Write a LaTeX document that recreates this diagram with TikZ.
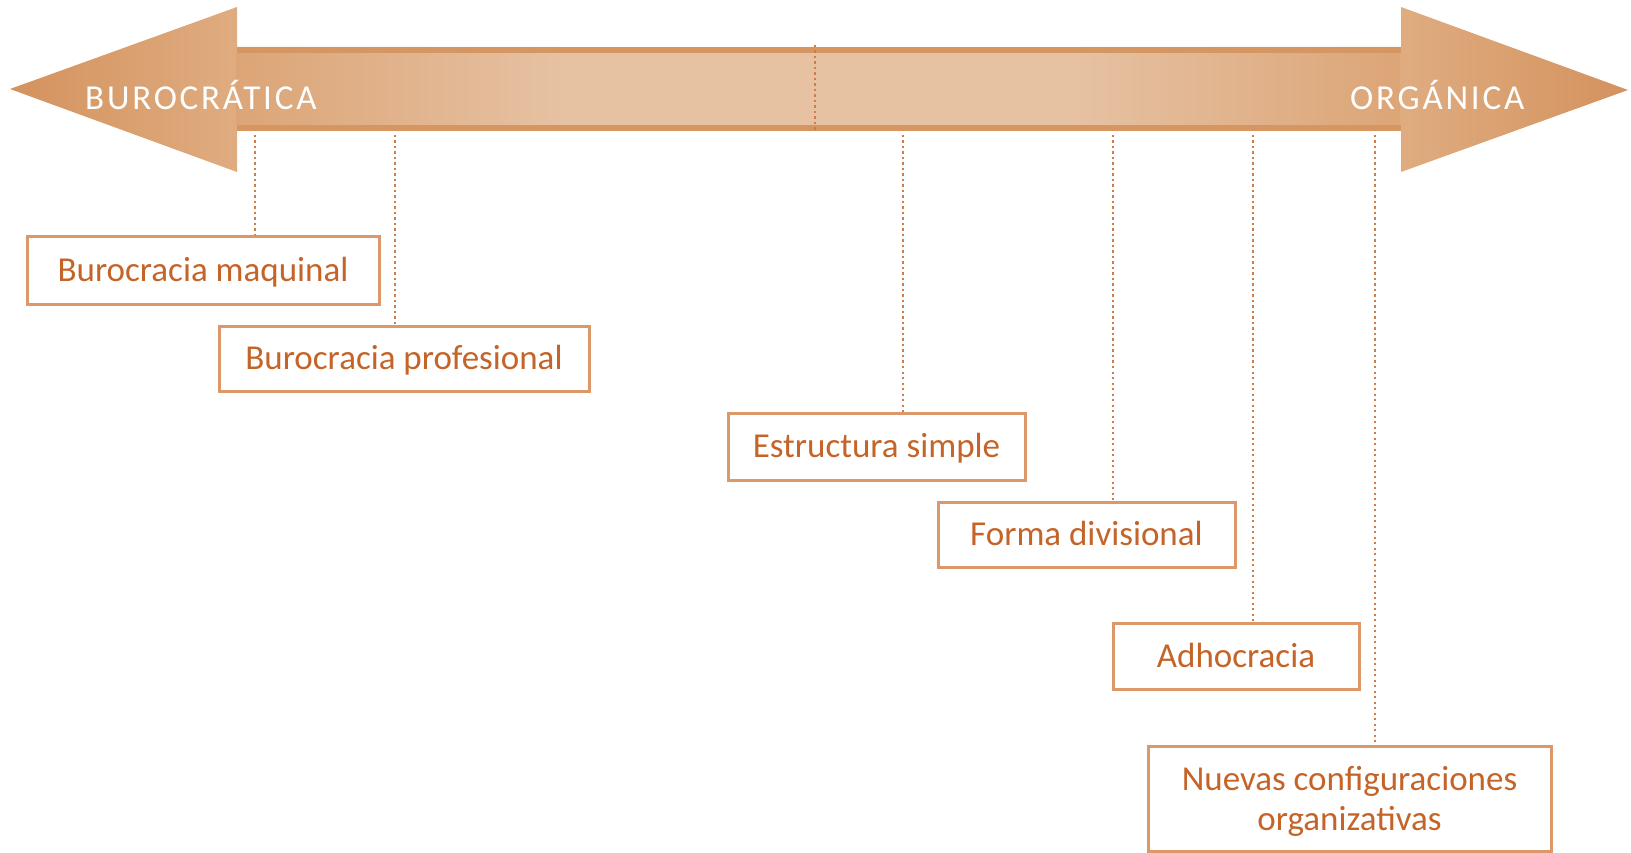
\documentclass[tikz,border=0pt]{standalone}
\usepackage{fontspec}
\setmainfont{Carlito}
\newfontfamily\spacedfont[LetterSpace=8]{Carlito}
\usetikzlibrary{fadings}

\definecolor{arrowdark}{RGB}{212,146,94}
\definecolor{arrowmid}{RGB}{223,172,128}
\definecolor{arrowlight}{RGB}{237,212,190}
\definecolor{bandcol}{RGB}{214,150,98}
\definecolor{boxline}{RGB}{220,152,104}
\definecolor{boxtext}{RGB}{196,100,40}
\definecolor{dotcol}{RGB}{204,125,72}

% left-to-right colour run of the double arrow (inner 25bp..75bp covers the path)
\pgfdeclarehorizontalshading{scaleshade}{100bp}{%
  color(0bp)=(arrowdark); color(25bp)=(arrowdark); color(32bp)=(arrowmid);
  color(42bp)=(arrowlight); color(58bp)=(arrowlight); color(68bp)=(arrowmid);
  color(75bp)=(arrowdark); color(100bp)=(arrowdark)}
% darker towards the upper and lower edges of the shaft
\tikzfading[name=shaftedges, top color=transparent!70, middle color=transparent!100, bottom color=transparent!70]

\begin{document}
\begin{tikzpicture}[x=1pt, y=-1pt,
  typebox/.style={draw=boxline, line width=3pt, fill=white, text=boxtext,
    font=\fontsize{35}{40}\selectfont, inner sep=0pt, align=center},
  oneline/.style={text height=22.4pt, text depth=0pt},
  connector/.style={dotcol, line width=2.5pt, dash pattern=on 2.2pt off 3.3pt},
  endlabel/.style={text=white, inner sep=0pt, anchor=base west,
    font=\spacedfont\fontsize{35}{40}\selectfont}]
\useasboundingbox (0,0) rectangle (1631,853);

% double arrow: burocratica <-> organica
\shade[shading=scaleshade]
  (10,89) -- (237,7) -- (237,47) -- (1401,47) -- (1401,7) -- (1628,90)
  -- (1401,172) -- (1401,131) -- (237,131) -- (237,172) -- cycle;
\fill[bandcol, path fading=shaftedges] (237,53) rectangle (1401,125);
\draw[bandcol, line width=6pt] (237,50) -- (1401,50);
\draw[bandcol, line width=6pt] (237,128) -- (1401,128);

% centre mark of the scale
\coordinate (midtop) at (815,45);
\coordinate (midbot) at (815,131);
\draw[connector] (midtop) -- (midbot);

\node[endlabel] (buro) at (85,109.5) {BUROCRÁTICA};
\node[endlabel] (orga) at (1350,110) {ORGÁNICA};

% structural configurations
\node[typebox, oneline, minimum width=352pt, minimum height=67pt] (b1) at (203,270.5) {Burocracia maquinal};
\node[typebox, oneline, minimum width=370pt, minimum height=65pt] (b2) at (404,358.5) {Burocracia profesional};
\node[typebox, oneline, minimum width=297pt, minimum height=67pt] (b3) at (876.5,446.5) {Estructura simple};
\node[typebox, oneline, minimum width=297pt, minimum height=65pt] (b4) at (1086.5,534.5) {Forma divisional};
\node[typebox, oneline, minimum width=246pt, minimum height=66pt] (b5) at (1236,656) {Adhocracia};
\node[typebox, text height=63pt, text depth=0pt, minimum width=403pt, minimum height=105pt] (b6) at (1349.5,798.5) {Nuevas configuraciones\\organizativas};

% positions on the scale
\coordinate (p1) at (255,135);
\coordinate (p2) at (395,135);
\coordinate (p3) at (903,135);
\coordinate (p4) at (1113,135);
\coordinate (p5) at (1253,135);
\coordinate (p6) at (1375,135);
\draw[connector] (p1) -- (p1 |- b1.north);
\draw[connector] (p2) -- (p2 |- b2.north);
\draw[connector] (p3) -- (p3 |- b3.north);
\draw[connector] (p4) -- (p4 |- b4.north);
\draw[connector] (p5) -- (p5 |- b5.north);
\draw[connector] (p6) -- (p6 |- b6.north);
\end{tikzpicture}
\end{document}
